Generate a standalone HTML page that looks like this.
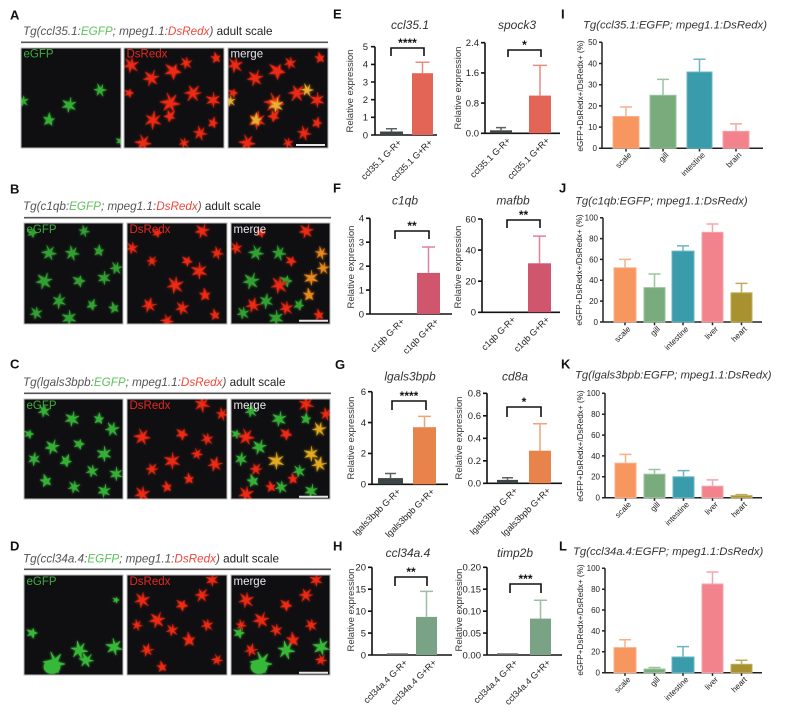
<!DOCTYPE html>
<html><head><meta charset="utf-8"><style>
html,body{margin:0;padding:0;background:#fff;}
svg{display:block;font-family:"Liberation Sans",Arial,sans-serif;}
</style></head><body>
<svg width="800" height="714" viewBox="0 0 800 714" xmlns="http://www.w3.org/2000/svg" xmlns:xlink="http://www.w3.org/1999/xlink">
<defs>
<path id="s1" transform="scale(0.85)" d="M0,-2.5 L1.2,-9 L2.5,-2 L9,-3.5 L3,1 L7.5,7 L0.8,3 L-1.5,9 L-2.5,2 L-8.5,2.5 L-2.8,-1 L-6.5,-7.5 Z"/>
<path id="s2" transform="scale(0.85)" d="M-1,-3 L-3,-10 L1,-3.5 L6,-8 L3,-1 L10,1 L2.5,2.5 L4,9 L0,3.5 L-6,7 L-3,1 L-10,-1 Z"/>
<path id="s3" transform="scale(0.85)" d="M0,-3 L2,-7 L3,-2 L8,0 L3,2 L2,8 L-1,3 L-7,4 L-3,0 L-8,-5 Z"/>
<filter id="glow" x="-10%" y="-10%" width="120%" height="120%">
<feGaussianBlur in="SourceGraphic" stdDeviation="1.3" result="b"/>
<feMerge><feMergeNode in="b"/><feMergeNode in="SourceGraphic"/></feMerge>
</filter>
<filter id="soft"><feGaussianBlur stdDeviation="0.5"/></filter>
</defs>
<rect width="800" height="714" fill="#fff"/>

<!-- Panel letters -->
<g font-size="13" font-weight="bold" fill="#111">
<text x="10" y="19.3">A</text><text x="10" y="193.3">B</text><text x="10" y="368.3">C</text><text x="10" y="550.7">D</text>
<text x="333" y="18.3">E</text><text x="333" y="192.7">F</text><text x="335" y="369">G</text><text x="333" y="550.7">H</text>
<text x="561" y="18.3">I</text><text x="559" y="192.7">J</text><text x="561" y="368.5">K</text><text x="559" y="550.7">L</text>
</g>

<!-- Left titles -->
<g font-size="11.7">
<text x="23" y="35"><tspan font-style="italic" fill="#555">Tg(ccl35.1:</tspan><tspan font-style="italic" fill="#5cc25c">EGFP</tspan><tspan font-style="italic" fill="#555">; mpeg1.1:</tspan><tspan font-style="italic" fill="#f0463c">DsRedx</tspan><tspan font-style="italic" fill="#555">)</tspan><tspan fill="#222"> adult scale</tspan></text>
<text x="23" y="210"><tspan font-style="italic" fill="#555">Tg(c1qb:</tspan><tspan font-style="italic" fill="#5cc25c">EGFP</tspan><tspan font-style="italic" fill="#555">; mpeg1.1:</tspan><tspan font-style="italic" fill="#f0463c">DsRedx</tspan><tspan font-style="italic" fill="#555">)</tspan><tspan fill="#222"> adult scale</tspan></text>
<text x="23" y="386"><tspan font-style="italic" fill="#555">Tg(lgals3bpb:</tspan><tspan font-style="italic" fill="#5cc25c">EGFP</tspan><tspan font-style="italic" fill="#555">; mpeg1.1:</tspan><tspan font-style="italic" fill="#f0463c">DsRedx</tspan><tspan font-style="italic" fill="#555">)</tspan><tspan fill="#222"> adult scale</tspan></text>
<text x="23" y="562.4"><tspan font-style="italic" fill="#555">Tg(ccl34a.4:</tspan><tspan font-style="italic" fill="#5cc25c">EGFP</tspan><tspan font-style="italic" fill="#555">; mpeg1.1:</tspan><tspan font-style="italic" fill="#f0463c">DsRedx</tspan><tspan font-style="italic" fill="#555">)</tspan><tspan fill="#222"> adult scale</tspan></text>
</g>
<g stroke="#555" stroke-width="1.6">
<line x1="21" y1="42.3" x2="328" y2="42.3"/>
<line x1="24" y1="217.7" x2="331" y2="217.7"/>
<line x1="24" y1="393.3" x2="331" y2="393.3"/>
<line x1="24" y1="569.3" x2="331" y2="569.3"/>
</g>

<!-- ROW A images -->
<svg x="21" y="48" width="100" height="100"><rect width="100" height="100" fill="#0f0f12"/>
<g fill="#34b034" stroke="#34b034" stroke-width="0.6" filter="url(#glow)">
<use href="#s1" transform="translate(79,42) scale(0.8) rotate(20)"/>
<use href="#s2" transform="translate(48,57) scale(0.9) rotate(30)"/>
<use href="#s3" transform="translate(28,72) scale(0.9) rotate(60)"/>
<use href="#s1" transform="translate(2,53) scale(0.7)"/>
<use href="#s3" transform="translate(99,93) scale(0.6)"/>
</g>
<text x="2.5" y="9.5" font-size="11.5" fill="#3fae3f">eGFP</text></svg>
<svg x="124" y="48" width="100" height="100"><rect width="100" height="100" fill="#0f0f12"/>
<g fill="#ee2a14" stroke="#c0200e" stroke-width="0.6" filter="url(#glow)">
<use href="#s1" transform="translate(7,17) scale(1)"/><use href="#s2" transform="translate(27,30) rotate(40)"/><use href="#s3" transform="translate(49,23) scale(1.2) rotate(10)"/><use href="#s1" transform="translate(69,45) scale(1.1) rotate(80)"/><use href="#s2" transform="translate(89,52) scale(0.9) rotate(20)"/><use href="#s2" transform="translate(46,55) scale(1.2)"/><use href="#s1" transform="translate(29,72) scale(1.1) rotate(50)"/><use href="#s3" transform="translate(46,68) scale(0.9) rotate(100)"/><use href="#s1" transform="translate(62,15) scale(0.8)"/><use href="#s3" transform="translate(92,10) scale(0.8) rotate(45)"/><use href="#s2" transform="translate(19,95)"/><use href="#s1" transform="translate(76,85) scale(0.9) rotate(30)"/><use href="#s3" transform="translate(89,75) scale(0.8) rotate(70)"/><use href="#s3" transform="translate(5,45) scale(0.7)"/><use href="#s1" transform="translate(60,95) scale(0.7)"/>
</g>
<text x="2.5" y="9.5" font-size="11.5" fill="#e8281e">DsRedx</text></svg>
<svg x="228" y="48" width="100" height="100"><rect width="100" height="100" fill="#0f0f12"/>
<g fill="#ee2a14" stroke="#c0200e" stroke-width="0.6" filter="url(#glow)">
<use href="#s1" transform="translate(7,17) scale(1)"/><use href="#s2" transform="translate(27,30) rotate(40)"/><use href="#s3" transform="translate(49,23) scale(1.2) rotate(10)"/><use href="#s1" transform="translate(69,45) scale(1.1) rotate(80)"/><use href="#s2" transform="translate(89,52) scale(0.9) rotate(20)"/><use href="#s2" transform="translate(46,55) scale(1.2)"/><use href="#s1" transform="translate(29,72) scale(1.1) rotate(50)"/><use href="#s3" transform="translate(46,68) scale(0.9) rotate(100)"/><use href="#s1" transform="translate(62,15) scale(0.8)"/><use href="#s3" transform="translate(92,10) scale(0.8) rotate(45)"/><use href="#s2" transform="translate(19,95)"/><use href="#s1" transform="translate(76,85) scale(0.9) rotate(30)"/><use href="#s3" transform="translate(89,75) scale(0.8) rotate(70)"/><use href="#s3" transform="translate(5,45) scale(0.7)"/><use href="#s1" transform="translate(60,95) scale(0.7)"/>
</g>
<g fill="#eab030" stroke="#e09020" stroke-width="0.6" filter="url(#glow)">
<use href="#s1" transform="translate(79,42) scale(0.8) rotate(20)"/><use href="#s2" transform="translate(48,57) scale(0.9) rotate(30)"/><use href="#s3" transform="translate(28,72) scale(0.9) rotate(60)"/><use href="#s1" transform="translate(2,53) scale(0.7)"/>
</g>
<text x="2.5" y="9.5" font-size="11.5" fill="#e6e6ee">merge</text>
<line x1="68" y1="97" x2="97" y2="97" stroke="#e8e8e8" stroke-width="2"/></svg>
<g fill="none" stroke="#bbb" stroke-width="1"><rect x="21" y="48" width="100" height="100"/><rect x="124" y="48" width="100" height="100"/><rect x="228" y="48" width="100" height="100"/></g>

<!-- ROW B images -->
<svg x="24" y="223" width="99" height="101"><rect width="100" height="101" fill="#0f0f12"/>
<g fill="#30a030" stroke="#30a030" stroke-width="0.6" filter="url(#glow)">
<use href="#s2" transform="translate(25,30) scale(0.9)"/><use href="#s1" transform="translate(48,30) scale(0.9) rotate(30)"/><use href="#s3" transform="translate(75,28) scale(0.8) rotate(60)"/><use href="#s1" transform="translate(92,45) scale(0.8) rotate(10)"/><use href="#s2" transform="translate(20,58) rotate(40)"/><use href="#s3" transform="translate(55,58) scale(0.9)"/><use href="#s2" transform="translate(80,55) scale(0.8) rotate(20)"/><use href="#s1" transform="translate(35,78) scale(0.9) rotate(50)"/><use href="#s3" transform="translate(68,82) scale(0.8) rotate(80)"/><use href="#s1" transform="translate(12,90) scale(0.8)"/><use href="#s2" transform="translate(45,95) scale(0.9) rotate(20)"/><use href="#s3" transform="translate(90,85) scale(0.8) rotate(40)"/><use href="#s3" transform="translate(8,10) scale(0.7)"/><use href="#s1" transform="translate(60,8) scale(0.7) rotate(30)"/>
</g>
<text x="2.5" y="10" font-size="11.5" fill="#3fae3f">eGFP</text></svg>
<svg x="127" y="223" width="100" height="101"><rect width="100" height="101" fill="#0f0f12"/>
<g fill="#ee2a14" stroke="#c0200e" stroke-width="0.6" filter="url(#glow)">
<use href="#s1" transform="translate(5,25) scale(0.8)"/><use href="#s2" transform="translate(75,8) scale(0.9) rotate(40)"/><use href="#s3" transform="translate(60,38) scale(0.8) rotate(10)"/><use href="#s1" transform="translate(25,38) scale(0.7) rotate(80)"/><use href="#s2" transform="translate(72,48) rotate(20)"/><use href="#s1" transform="translate(48,62) scale(1.1)"/><use href="#s3" transform="translate(78,72) scale(0.9) rotate(50)"/><use href="#s2" transform="translate(22,82) scale(0.9) rotate(100)"/><use href="#s1" transform="translate(55,85) scale(0.9)"/><use href="#s3" transform="translate(88,92) scale(0.8) rotate(45)"/><use href="#s2" transform="translate(40,98) scale(0.8)"/><use href="#s1" transform="translate(90,30) scale(0.8) rotate(30)"/><use href="#s3" transform="translate(30,10) scale(0.7)"/>
</g>
<text x="2.5" y="10" font-size="11.5" fill="#e8281e">DsRedx</text></svg>
<svg x="231" y="223" width="99" height="101"><rect width="100" height="101" fill="#0f0f12"/>
<g fill="#30a030" stroke="#30a030" stroke-width="0.6" filter="url(#glow)">
<use href="#s2" transform="translate(25,30) scale(0.9)"/><use href="#s1" transform="translate(48,30) scale(0.9) rotate(30)"/><use href="#s2" transform="translate(20,58) rotate(40)"/><use href="#s3" transform="translate(55,58) scale(0.9)"/><use href="#s1" transform="translate(35,78) scale(0.9) rotate(50)"/><use href="#s3" transform="translate(68,82) scale(0.8) rotate(80)"/><use href="#s1" transform="translate(12,90) scale(0.8)"/><use href="#s2" transform="translate(45,95) scale(0.9) rotate(20)"/>
</g>
<g fill="#ee2a14" stroke="#c0200e" stroke-width="0.6" filter="url(#glow)">
<use href="#s1" transform="translate(5,25) scale(0.8)"/><use href="#s2" transform="translate(75,8) scale(0.9) rotate(40)"/><use href="#s3" transform="translate(60,38) scale(0.8) rotate(10)"/><use href="#s1" transform="translate(48,62) scale(1.1)"/><use href="#s2" transform="translate(22,82) scale(0.9) rotate(100)"/><use href="#s1" transform="translate(55,85) scale(0.9)"/><use href="#s3" transform="translate(88,92) scale(0.8) rotate(45)"/><use href="#s3" transform="translate(30,10) scale(0.7)"/>
</g>
<g fill="#e88c20" stroke="#d07010" stroke-width="0.6" filter="url(#glow)">
<use href="#s2" transform="translate(80,55) scale(0.9) rotate(20)"/><use href="#s1" transform="translate(92,45) scale(0.8) rotate(10)"/><use href="#s3" transform="translate(78,72) scale(0.9) rotate(50)"/><use href="#s1" transform="translate(90,30) scale(0.8) rotate(30)"/>
</g>
<text x="2.5" y="10" font-size="11.5" fill="#e6e6ee">merge</text>
<line x1="68" y1="97.7" x2="97" y2="97.7" stroke="#e8e8e8" stroke-width="2"/></svg>
<g fill="none" stroke="#bbb" stroke-width="1"><rect x="24" y="223" width="99" height="101"/><rect x="127" y="223" width="100" height="101"/><rect x="231" y="223" width="99" height="101"/></g>

<!-- ROW C images -->
<svg x="24" y="399" width="99" height="100"><rect width="100" height="100" fill="#0f0f12"/>
<g fill="#36b036" stroke="#36b036" stroke-width="0.6" filter="url(#glow)">
<use href="#s1" transform="translate(20,12) scale(0.8)"/><use href="#s2" transform="translate(48,20) scale(0.9) rotate(30)"/><use href="#s3" transform="translate(75,20) scale(0.8) rotate(60)"/><use href="#s1" transform="translate(88,30) scale(0.9) rotate(10)"/><use href="#s2" transform="translate(28,48) scale(0.9) rotate(40)"/><use href="#s3" transform="translate(55,45) scale(0.8)"/><use href="#s2" transform="translate(80,55) scale(0.9) rotate(20)"/><use href="#s1" transform="translate(10,60) scale(0.8) rotate(50)"/><use href="#s3" transform="translate(42,62) scale(0.9) rotate(80)"/><use href="#s1" transform="translate(68,72) scale(0.8)"/><use href="#s2" transform="translate(92,75) scale(0.8) rotate(20)"/><use href="#s3" transform="translate(22,82) scale(0.9) rotate(40)"/><use href="#s1" transform="translate(50,88) scale(0.8)"/><use href="#s2" transform="translate(80,92) scale(0.8) rotate(30)"/><use href="#s3" transform="translate(5,35) scale(0.7)"/>
</g>
<text x="2.5" y="10" font-size="11.5" fill="#3fae3f">eGFP</text></svg>
<svg x="127" y="399" width="100" height="100"><rect width="100" height="100" fill="#0f0f12"/>
<g fill="#ee2a14" stroke="#c0200e" stroke-width="0.6" filter="url(#glow)">
<use href="#s2" transform="translate(15,38)"/><use href="#s1" transform="translate(75,5) rotate(40)"/><use href="#s3" transform="translate(55,35) scale(0.9) rotate(10)"/><use href="#s1" transform="translate(25,70) scale(0.8) rotate(80)"/><use href="#s2" transform="translate(45,62) rotate(20)"/><use href="#s1" transform="translate(80,40) scale(0.8)"/><use href="#s3" transform="translate(62,80) scale(0.8) rotate(50)"/><use href="#s2" transform="translate(88,65) scale(0.9) rotate(100)"/><use href="#s1" transform="translate(15,95)"/><use href="#s3" transform="translate(40,88) scale(0.8) rotate(45)"/><use href="#s2" transform="translate(70,55) scale(0.7)"/><use href="#s1" transform="translate(95,15) scale(0.8) rotate(30)"/>
</g>
<text x="2.5" y="10" font-size="11.5" fill="#e8281e">DsRedx</text></svg>
<svg x="231" y="399" width="99" height="100"><rect width="100" height="100" fill="#0f0f12"/>
<g fill="#36b036" stroke="#36b036" stroke-width="0.6" filter="url(#glow)">
<use href="#s1" transform="translate(20,12) scale(0.8)"/><use href="#s2" transform="translate(48,20) scale(0.9) rotate(30)"/><use href="#s3" transform="translate(75,20) scale(0.8) rotate(60)"/><use href="#s2" transform="translate(28,48) scale(0.9) rotate(40)"/><use href="#s1" transform="translate(10,60) scale(0.8) rotate(50)"/><use href="#s1" transform="translate(68,72) scale(0.8)"/><use href="#s3" transform="translate(22,82) scale(0.9) rotate(40)"/><use href="#s1" transform="translate(50,88) scale(0.8)"/><use href="#s2" transform="translate(80,92) scale(0.8) rotate(30)"/><use href="#s3" transform="translate(5,35) scale(0.7)"/>
</g>
<g fill="#ee2a14" stroke="#c0200e" stroke-width="0.6" filter="url(#glow)">
<use href="#s2" transform="translate(15,38)"/><use href="#s1" transform="translate(75,5) rotate(40)"/><use href="#s3" transform="translate(55,35) scale(0.9) rotate(10)"/><use href="#s1" transform="translate(25,70) scale(0.8) rotate(80)"/><use href="#s3" transform="translate(62,80) scale(0.8) rotate(50)"/><use href="#s1" transform="translate(15,95)"/><use href="#s3" transform="translate(40,88) scale(0.8) rotate(45)"/><use href="#s1" transform="translate(95,15) scale(0.8) rotate(30)"/>
</g>
<g fill="#e0ac20" stroke="#c89010" stroke-width="0.6" filter="url(#glow)">
<use href="#s2" transform="translate(45,62) rotate(20)"/><use href="#s2" transform="translate(88,65) scale(0.9) rotate(100)"/><use href="#s2" transform="translate(80,55) scale(0.9) rotate(20)"/><use href="#s1" transform="translate(88,30) scale(0.9) rotate(10)"/>
</g>
<text x="2.5" y="10" font-size="11.5" fill="#e6e6ee">merge</text>
<line x1="68" y1="97.7" x2="97" y2="97.7" stroke="#e8e8e8" stroke-width="2"/></svg>
<g fill="none" stroke="#bbb" stroke-width="1"><rect x="24" y="399" width="99" height="100"/><rect x="127" y="399" width="100" height="100"/><rect x="231" y="399" width="99" height="100"/></g>

<!-- ROW D images -->
<svg x="24" y="575" width="99" height="100"><rect width="100" height="100" fill="#0f0f12"/>
<g fill="#38b838" stroke="#38b838" stroke-width="0.6" filter="url(#glow)">
<use href="#s3" transform="translate(8,58) scale(0.8)"/>
<ellipse cx="28" cy="92" rx="8" ry="6.5"/>
<use href="#s2" transform="translate(30,88) scale(1.3)"/>
<use href="#s1" transform="translate(55,75) scale(1.1) rotate(30)"/>
<use href="#s2" transform="translate(62,85) scale(0.9) rotate(60)"/>
<use href="#s2" transform="translate(90,72) rotate(10)"/>
<use href="#s3" transform="translate(92,25) scale(0.5)"/>
</g>
<text x="2.5" y="10" font-size="11.5" fill="#3fae3f">eGFP</text></svg>
<svg x="127" y="575" width="100" height="100"><rect width="100" height="100" fill="#0f0f12"/>
<g fill="#ee2a14" stroke="#c0200e" stroke-width="0.6" filter="url(#glow)">
<use href="#s1" transform="translate(15,25)"/><use href="#s2" transform="translate(30,45) rotate(40)"/><use href="#s3" transform="translate(55,30) scale(0.9) rotate(10)"/><use href="#s1" transform="translate(75,20) scale(0.9) rotate(80)"/><use href="#s2" transform="translate(85,5) scale(0.8) rotate(20)"/><use href="#s1" transform="translate(45,55) scale(0.8)"/><use href="#s3" transform="translate(62,65) rotate(50)"/><use href="#s2" transform="translate(20,75) scale(0.8) rotate(100)"/><use href="#s1" transform="translate(80,50) scale(0.8)"/><use href="#s3" transform="translate(35,92) scale(0.8) rotate(45)"/><use href="#s2" transform="translate(90,85) scale(0.7)"/><use href="#s1" transform="translate(10,50) scale(0.7) rotate(30)"/>
</g>
<text x="2.5" y="10" font-size="11.5" fill="#e8281e">DsRedx</text></svg>
<svg x="231" y="575" width="99" height="100"><rect width="100" height="100" fill="#0f0f12"/>
<g fill="#ee2a14" stroke="#c0200e" stroke-width="0.6" filter="url(#glow)">
<use href="#s1" transform="translate(15,25)"/><use href="#s2" transform="translate(30,45) rotate(40)"/><use href="#s3" transform="translate(55,30) scale(0.9) rotate(10)"/><use href="#s1" transform="translate(75,20) scale(0.9) rotate(80)"/><use href="#s2" transform="translate(85,5) scale(0.8) rotate(20)"/><use href="#s1" transform="translate(45,55) scale(0.8)"/><use href="#s3" transform="translate(62,65) rotate(50)"/><use href="#s2" transform="translate(20,75) scale(0.8) rotate(100)"/><use href="#s1" transform="translate(80,50) scale(0.8)"/><use href="#s2" transform="translate(90,85) scale(0.7)"/><use href="#s1" transform="translate(10,50) scale(0.7) rotate(30)"/>
</g>
<g fill="#38b838" stroke="#38b838" stroke-width="0.6" filter="url(#glow)">
<use href="#s3" transform="translate(8,58) scale(0.8)"/>
<ellipse cx="28" cy="92" rx="8" ry="6.5"/>
<use href="#s2" transform="translate(30,88) scale(1.3)"/>
<use href="#s1" transform="translate(55,75) scale(1.1) rotate(30)"/>
<use href="#s2" transform="translate(90,72) rotate(10)"/>
</g>
<text x="2.5" y="10" font-size="11.5" fill="#e6e6ee">merge</text>
<line x1="68" y1="97.7" x2="97" y2="97.7" stroke="#e8e8e8" stroke-width="2"/></svg>
<g fill="none" stroke="#bbb" stroke-width="1"><rect x="24" y="575" width="99" height="100"/><rect x="127" y="575" width="100" height="100"/><rect x="231" y="575" width="99" height="100"/></g>

<!-- ===== E-H ===== -->
<g font-size="12" font-style="italic" fill="#333" text-anchor="middle">
<text x="410" y="29">ccl35.1</text><text x="517" y="29">spock3</text>
<text x="405" y="204.5">c1qb</text><text x="513" y="204.5">mafbb</text>
<text x="410" y="380.3">lgals3bpb</text><text x="515" y="380.3">cd8a</text>
<text x="408" y="557">ccl34a.4</text><text x="515" y="557">timp2b</text>
</g>
<g font-size="9.5" fill="#333" text-anchor="middle">
<text transform="translate(353,91) rotate(-90)">Relative expression</text>
<text transform="translate(461,88) rotate(-90)">Relative expression</text>
<text transform="translate(354,267) rotate(-90)">Relative expression</text>
<text transform="translate(461,267) rotate(-90)">Relative expression</text>
<text transform="translate(354,438) rotate(-90)">Relative expression</text>
<text transform="translate(462,438) rotate(-90)">Relative expression</text>
<text transform="translate(354,610) rotate(-90)">Relative expression</text>
<text transform="translate(462,610) rotate(-90)">Relative expression</text>
</g>

<g stroke="#111" stroke-width="1.6" fill="none">
<path d="M375,46.7V135H437M371,46.7H375M371,64.4H375M371,82H375M371,99.7H375M371,117.3H375M371,135H375"/>
<path d="M485,42.7V133.3H560M481,42.7H485M481,72.9H485M481,103.1H485M481,133.3H485"/>
<path d="M370,218.3V314H452M366,218.3H370M366,242.2H370M366,266.2H370M366,290.1H370M366,314H370"/>
<path d="M482,219V312.3H560M478,219H482M478,250.1H482M478,281.2H482M478,312.3H482"/>
<path d="M372,391.7V484.3H448M368,391.7H372M368,422.6H372M368,453.4H372M368,484.3H372"/>
<path d="M487,393.3V483.3H562M483,393.3H487M483,415.8H487M483,438.3H487M483,460.8H487M483,483.3H487"/>
<path d="M372,567.3V655H452M368,567.3H372M368,589.2H372M368,611.2H372M368,633.1H372M368,655H372"/>
<path d="M487,567.3V655H562M483,567.3H487M483,589.2H487M483,611.2H487M483,633.1H487M483,655H487"/>
<path d="M391,56V48H424V56"/>
<path d="M508,57V50H541V57"/>
<path d="M395,239V231H429V239"/>
<path d="M507,228V220H540V228"/>
<path d="M392,410V401H426V410"/>
<path d="M507,417V407H541V417"/>
<path d="M395,586V577H427V586"/>
<path d="M510,593V584H541V593"/>
</g>
<g font-size="12" font-weight="bold" fill="#111" text-anchor="middle">
<text x="407.5" y="47">****</text><text x="524.5" y="49">*</text>
<text x="412" y="230">**</text><text x="523.5" y="219">**</text>
<text x="409" y="400">****</text><text x="524" y="406">*</text>
<text x="411" y="576">**</text><text x="525.5" y="583">***</text>
</g>
<g font-size="9.5" fill="#222" text-anchor="end">
<text x="368" y="50">5</text><text x="368" y="67.7">4</text><text x="368" y="85.3">3</text><text x="368" y="103">2</text><text x="368" y="120.6">1</text><text x="368" y="138.3">0</text>
<text x="479" y="46">2.4</text><text x="479" y="76.2">1.6</text><text x="479" y="106.4">0.8</text><text x="479" y="136.6">0.0</text>
<text x="364" y="221.6">4</text><text x="364" y="245.5">3</text><text x="364" y="269.5">2</text><text x="364" y="293.4">1</text><text x="364" y="317.3">0</text>
<text x="476" y="222.3">60</text><text x="476" y="253.4">40</text><text x="476" y="284.5">20</text><text x="476" y="315.6">0</text>
<text x="366" y="395">6</text><text x="366" y="425.9">4</text><text x="366" y="456.7">2</text><text x="366" y="487.6">0</text>
<text x="481" y="396.6">0.8</text><text x="481" y="419.1">0.6</text><text x="481" y="441.6">0.4</text><text x="481" y="464.1">0.2</text><text x="481" y="486.6">0.0</text>
<text x="366" y="570.6">20</text><text x="366" y="592.5">15</text><text x="366" y="614.5">10</text><text x="366" y="636.4">5</text><text x="366" y="658.3">0</text>
<text x="481" y="570.6">0.20</text><text x="481" y="592.5">0.15</text><text x="481" y="614.5">0.10</text><text x="481" y="636.4">0.05</text><text x="481" y="658.3">0.00</text>
</g>
<g>
<rect x="380" y="131.5" width="23" height="3.5" fill="#3d4646"/>
<rect x="412" y="73.2" width="21" height="61.8" fill="#e26556"/>
<rect x="490" y="130.3" width="22" height="3" fill="#3d4646"/>
<rect x="529" y="95.6" width="22" height="37.7" fill="#e26556"/>
<rect x="417" y="272.9" width="23" height="41.1" fill="#d0566e"/>
<rect x="528" y="263.3" width="23" height="49" fill="#d0566e"/>
<rect x="378" y="478.1" width="25" height="6.2" fill="#3d4646"/>
<rect x="413" y="427.2" width="23" height="57.1" fill="#e8834b"/>
<rect x="497" y="479.9" width="21" height="3.4" fill="#3d4646"/>
<rect x="529" y="450.7" width="22" height="32.6" fill="#e8834b"/>
<rect x="387" y="653.3" width="21" height="1.7" fill="#666"/>
<rect x="416" y="616.9" width="21" height="38.1" fill="#7aa385"/>
<rect x="497" y="653.3" width="21" height="1.7" fill="#666"/>
<rect x="530" y="618.6" width="21" height="36.4" fill="#7aa385"/>
</g>
<g fill="none" stroke-width="1.5">
<path d="M391.5,131.5V128.8M386,128.8H397" stroke="#5a6262"/>
<path d="M422.5,73.2V62.2M415.5,62.2H429.5" stroke="#e88c82"/>
<path d="M501,130.3V127.6M496,127.6H506" stroke="#5a6262"/>
<path d="M540,95.6V65.4M533,65.4H547" stroke="#e88c82"/>
<path d="M428.5,272.9V247M422,247H435" stroke="#e0809a"/>
<path d="M539.5,263.3V236.1M533,236.1H546" stroke="#e0809a"/>
<path d="M390.5,478.1V473.5M385,473.5H396" stroke="#5a6262"/>
<path d="M424.5,427.2V416.4M418,416.4H431" stroke="#eea47a"/>
<path d="M507.5,479.9V477.7M502,477.7H513" stroke="#5a6262"/>
<path d="M540,450.7V423.7M533,423.7H547" stroke="#eea47a"/>
<path d="M426.5,616.9V591.4M420,591.4H433" stroke="#9dbda5"/>
<path d="M540.5,618.6V600.2M534,600.2H547" stroke="#9dbda5"/>
</g>
<g font-size="9" fill="#222" text-anchor="end">
<text transform="translate(402,143) rotate(-45)">ccl35.1 G-R+</text>
<text transform="translate(433,143) rotate(-45)">ccl35.1 G+R+</text>
<text transform="translate(511,141) rotate(-45)">ccl35.1 G-R+</text>
<text transform="translate(550,141) rotate(-45)">ccl35.1 G+R+</text>
<text transform="translate(405,322) rotate(-45)">c1qb G-R+</text>
<text transform="translate(439,322) rotate(-45)">c1qb G+R+</text>
<text transform="translate(516,320) rotate(-45)">c1qb G-R+</text>
<text transform="translate(550,320) rotate(-45)">c1qb G+R+</text>
<text transform="translate(401,492) rotate(-45)">lgals3bpb G-R+</text>
<text transform="translate(435,492) rotate(-45)">lgals3bpb G+R+</text>
<text transform="translate(518,491) rotate(-45)">lgals3bpb G-R+</text>
<text transform="translate(551,491) rotate(-45)">lgals3bpb G+R+</text>
<text transform="translate(408,663) rotate(-45)">ccl34a.4 G-R+</text>
<text transform="translate(437,663) rotate(-45)">ccl34a.4 G+R+</text>
<text transform="translate(518,663) rotate(-45)">ccl34a.4 G-R+</text>
<text transform="translate(551,663) rotate(-45)">ccl34a.4 G+R+</text>
</g>

<!-- ===== I-L ===== -->
<g font-size="11.3" font-style="italic" fill="#333">
<text x="583" y="28.5">Tg(ccl35.1:EGFP; mpeg1.1:DsRedx)</text>
<text x="575" y="204.3">Tg(c1qb:EGFP; mpeg1.1:DsRedx)</text>
<text x="575" y="378.5">Tg(lgals3bpb:EGFP; mpeg1.1:DsRedx)</text>
<text x="573" y="554.8">Tg(ccl34a.4:EGFP; mpeg1.1:DsRedx)</text>
</g>
<g font-size="8.2" fill="#222" text-anchor="middle">
<text transform="translate(583,96) rotate(-90)">eGFP+DsRedx+/DsRedx+ (%)</text>
<text transform="translate(582,270) rotate(-90)">eGFP+DsRedx+/DsRedx+ (%)</text>
<text transform="translate(583,446) rotate(-90)">eGFP+DsRedx+/DsRedx+ (%)</text>
<text transform="translate(583,620) rotate(-90)">eGFP+DsRedx+/DsRedx+ (%)</text>
</g>
<g stroke="#222" stroke-width="1.5" fill="none">
<path d="M602,42.3V148.3H763M599,42.3H602M599,63.5H602M599,84.7H602M599,105.9H602M599,127.1H602M599,148.3H602M626,148.3V151.5M663,148.3V151.5M699.5,148.3V151.5M736,148.3V151.5"/>
<path d="M603,217.7V322H762M600,217.7H603M600,238.6H603M600,259.4H603M600,280.3H603M600,301.1H603M600,322H603M625,322V325.2M654.5,322V325.2M683,322V325.2M712.5,322V325.2M741.5,322V325.2"/>
<path d="M605,393.3V497.7H762M602,393.3H605M602,414.2H605M602,435.1H605M602,455.9H605M602,476.8H605M602,497.7H605M625.5,497.7V500.9M654.5,497.7V500.9M683.5,497.7V500.9M712.5,497.7V500.9M741.5,497.7V500.9"/>
<path d="M605,568.3V672.7H762M602,568.3H605M602,589.2H605M602,610H605M602,630.9H605M602,651.8H605M602,672.7H605M625,672.7V675.9M654.5,672.7V675.9M683,672.7V675.9M712.5,672.7V675.9M741.5,672.7V675.9"/>
</g>
<g font-size="8" fill="#222" text-anchor="end">
<text x="597" y="45.2">50</text><text x="597" y="66.4">40</text><text x="597" y="87.6">30</text><text x="597" y="108.8">20</text><text x="597" y="130">10</text><text x="597" y="151.2">0</text>
<text x="598" y="220.6">100</text><text x="598" y="241.5">80</text><text x="598" y="262.3">60</text><text x="598" y="283.2">40</text><text x="598" y="304">20</text><text x="598" y="324.9">0</text>
<text x="600" y="396.2">100</text><text x="600" y="417.1">80</text><text x="600" y="438">60</text><text x="600" y="458.8">40</text><text x="600" y="479.7">20</text><text x="600" y="500.6">0</text>
<text x="600" y="571.2">100</text><text x="600" y="592.1">80</text><text x="600" y="612.9">60</text><text x="600" y="633.8">40</text><text x="600" y="654.7">20</text><text x="600" y="675.6">0</text>
</g>
<g stroke-width="1">
<rect x="613" y="116.5" width="26" height="31.8" fill="#f7965f" stroke="#f9b08a"/>
<rect x="650" y="95.3" width="26" height="53" fill="#79ab7d" stroke="#9cc49f"/>
<rect x="687" y="72" width="25" height="76.3" fill="#3a9bab" stroke="#6bb6c2"/>
<rect x="723" y="131.3" width="26" height="17" fill="#f2838c" stroke="#f5a5ab"/>
<rect x="614" y="267.8" width="22" height="54.2" fill="#f7965f" stroke="#f9b08a"/>
<rect x="644" y="287.6" width="21" height="34.4" fill="#79ab7d" stroke="#9cc49f"/>
<rect x="672" y="251.1" width="22" height="70.9" fill="#3a9bab" stroke="#6bb6c2"/>
<rect x="702" y="232.3" width="21" height="89.7" fill="#f2838c" stroke="#f5a5ab"/>
<rect x="731" y="292.8" width="21" height="29.2" fill="#a8912f" stroke="#c0ad5c"/>
<rect x="615" y="463.2" width="21" height="34.5" fill="#f7965f" stroke="#f9b08a"/>
<rect x="644" y="474.2" width="21" height="23.5" fill="#79ab7d" stroke="#9cc49f"/>
<rect x="673" y="476.8" width="21" height="20.9" fill="#3a9bab" stroke="#6bb6c2"/>
<rect x="702" y="486.2" width="21" height="11.5" fill="#f2838c" stroke="#f5a5ab"/>
<rect x="731" y="495.6" width="21" height="2.1" fill="#a8912f" stroke="#c0ad5c"/>
<rect x="614" y="647.6" width="22" height="25.1" fill="#f7965f" stroke="#f9b08a"/>
<rect x="644" y="669" width="21" height="3.7" fill="#79ab7d" stroke="#9cc49f"/>
<rect x="672" y="657" width="22" height="15.7" fill="#3a9bab" stroke="#6bb6c2"/>
<rect x="702" y="584" width="21" height="88.7" fill="#f2838c" stroke="#f5a5ab"/>
<rect x="731" y="664.3" width="21" height="8.4" fill="#a8912f" stroke="#c0ad5c"/>
</g>
<g fill="none" stroke-width="1.5">
<path d="M626,116.5V107M620,107H632" stroke="#f9b08a"/>
<path d="M663,95.3V79.4M657,79.4H669" stroke="#9cc49f"/>
<path d="M699.5,72V59.3M693.5,59.3H705.5" stroke="#6bb6c2"/>
<path d="M736,131.3V123.9M730,123.9H742" stroke="#f5a5ab"/>
<path d="M625,267.8V259.4M619,259.4H631" stroke="#f9b08a"/>
<path d="M654.5,287.6V274M648.5,274H660.5" stroke="#9cc49f"/>
<path d="M683,251.1V245.9M677,245.9H689" stroke="#6bb6c2"/>
<path d="M712.5,232.3V224M706.5,224H718.5" stroke="#f5a5ab"/>
<path d="M741.5,292.8V283.4M735.5,283.4H747.5" stroke="#c0ad5c"/>
<path d="M625.5,463.2V454.4M619.5,454.4H631.5" stroke="#f9b08a"/>
<path d="M654.5,474.2V469.5M648.5,469.5H660.5" stroke="#9cc49f"/>
<path d="M683.5,476.8V470.6M677.5,470.6H689.5" stroke="#6bb6c2"/>
<path d="M712.5,486.2V479.9M706.5,479.9H718.5" stroke="#f5a5ab"/>
<path d="M741.5,495.6V494.6M735.5,494.6H747.5" stroke="#c0ad5c"/>
<path d="M625,647.6V639.8M619,639.8H631" stroke="#f9b08a"/>
<path d="M654.5,669V667.5M648.5,667.5H660.5" stroke="#9cc49f"/>
<path d="M683,657V646.6M677,646.6H689" stroke="#6bb6c2"/>
<path d="M712.5,584V572M706.5,572H718.5" stroke="#f5a5ab"/>
<path d="M741.5,664.3V660.2M735.5,660.2H747.5" stroke="#c0ad5c"/>
</g>
<g font-size="8" fill="#222" text-anchor="end">
<text transform="translate(632,155.5) rotate(-45)">scale</text>
<text transform="translate(669,155.5) rotate(-45)">gill</text>
<text transform="translate(705.5,155.5) rotate(-45)">intestine</text>
<text transform="translate(742,155.5) rotate(-45)">brain</text>
<text transform="translate(631,329.5) rotate(-45)">scale</text>
<text transform="translate(660.5,329.5) rotate(-45)">gill</text>
<text transform="translate(689,329.5) rotate(-45)">intestine</text>
<text transform="translate(718.5,329.5) rotate(-45)">liver</text>
<text transform="translate(747.5,329.5) rotate(-45)">heart</text>
<text transform="translate(631.5,505) rotate(-45)">scale</text>
<text transform="translate(660.5,505) rotate(-45)">gill</text>
<text transform="translate(689.5,505) rotate(-45)">intestine</text>
<text transform="translate(718.5,505) rotate(-45)">liver</text>
<text transform="translate(747.5,505) rotate(-45)">heart</text>
<text transform="translate(631,680) rotate(-45)">scale</text>
<text transform="translate(660.5,680) rotate(-45)">gill</text>
<text transform="translate(689,680) rotate(-45)">intestine</text>
<text transform="translate(718.5,680) rotate(-45)">liver</text>
<text transform="translate(747.5,680) rotate(-45)">heart</text>
</g>
</svg>
</body></html>
